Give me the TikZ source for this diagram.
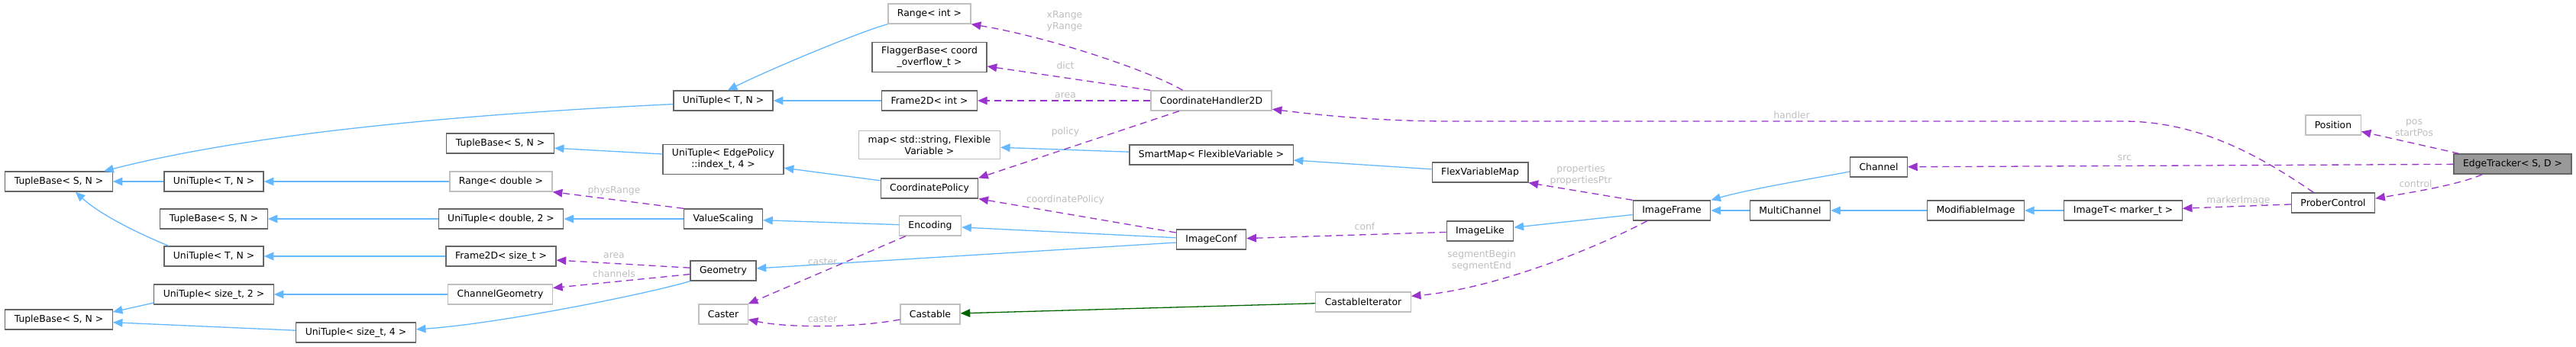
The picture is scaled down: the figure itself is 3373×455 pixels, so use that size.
\documentclass[tikz,border=0pt]{standalone}
\usepackage{fontspec}
\setmainfont{DejaVu Sans}
\usetikzlibrary{arrows.meta}

\definecolor{inheritBlue}{HTML}{63B8FF}
\definecolor{usagePurple}{HTML}{9A32CD}
\definecolor{templGreen}{HTML}{006400}
\definecolor{docBorder}{HTML}{666666}
\definecolor{undocBorder}{HTML}{BFBFBF}
\definecolor{curFill}{HTML}{999999}
\definecolor{labelGrey}{HTML}{BEBEBE}

\newcommand{\classfont}{\fontsize{6.2}{7.5}\selectfont}

\tikzset{every picture/.style={line width=0.65pt}}
\tikzset{
  cls/.style={draw=docBorder, fill=white, font=\classfont, inner xsep=6pt, inner ysep=0pt, minimum height=13pt},
  clsundoc/.style={cls, draw=undocBorder},
  clscur/.style={cls, fill=curFill},
  twoline/.style={align=center, inner ysep=3pt},
  tip/.style={-{Triangle[length=6.3pt,width=5.3pt]}},
  inherit/.style={draw=inheritBlue, tip},
  usage/.style={draw=usagePurple, dash pattern=on 4.5pt off 3pt, tip},
  templ/.style={draw=templGreen, tip},
  edgelabel/.style={text=labelGrey, font=\classfont, inner sep=0pt, align=center}
}

\begin{document}
\begin{tikzpicture}[x=0.5pt,y=0.5pt,yscale=-1,xscale=1]
%set diagram left start at 0, and has height of 455
\useasboundingbox (0,0) rectangle (3373,455);

% Classes, left column
\node[cls] (tbA) at (77,238) {TupleBase< S, N >};
\node[cls] (tbD) at (77,419) {TupleBase< S, N >};
\node[cls] (utA) at (280,238) {UniTuple< T, N >};
\node[cls] (tbC) at (280,287) {TupleBase< S, N >};
\node[cls] (utB) at (280,336) {UniTuple< T, N >};
\node[cls] (utSizeTwo) at (280,386) {UniTuple< size\_t, 2 >};
\node[cls] (utSizeFour) at (466,436) {UniTuple< size\_t, 4 >};
\node[cls] (tbB) at (655,188) {TupleBase< S, N >};
\node[clsundoc] (rangeDouble) at (656,238) {Range< double >};
\node[cls] (utDouble) at (656,287) {UniTuple< double, 2 >};
\node[cls] (frameSize) at (656,336) {Frame2D< size\_t >};
\node[clsundoc] (channelGeom) at (655,386) {ChannelGeometry};

% Classes, middle
\node[cls] (utC) at (947,132) {UniTuple< T, N >};
\node[cls, twoline] (utEdge) at (947,209) {UniTuple< EdgePolicy\\::index\_t, 4 >};
\node[cls] (valueScaling) at (947,287) {ValueScaling};
\node[cls] (geometry) at (947,355) {Geometry};
\node[clsundoc] (caster) at (947,412) {Caster};
\node[clsundoc] (rangeInt) at (1217,18) {Range< int >};
\node[cls, twoline] (flagger) at (1217,75) {FlaggerBase< coord\\\_overflow\_t >};
\node[cls] (frameInt) at (1217,132) {Frame2D< int >};
\node[clsundoc, twoline] (stdMap) at (1217,190) {map< std::string, Flexible\\Variable >};
\node[cls] (coordPolicy) at (1217,247) {CoordinatePolicy};
\node[clsundoc] (encoding) at (1218,296) {Encoding};
\node[clsundoc] (castable) at (1218,412) {Castable};
\node[clsundoc] (coordHandler) at (1586,132) {CoordinateHandler2D};
\node[cls] (smartMap) at (1586,203) {SmartMap< FlexibleVariable >};
\node[cls] (imageConf) at (1586,314) {ImageConf};

% Classes, right
\node[clsundoc] (castIter) at (1785,396) {CastableIterator};
\node[cls] (flexMap) at (1938,226) {FlexVariableMap};
\node[cls] (imageLike) at (1938,303) {ImageLike};
\node[cls] (imageFrame) at (2189,276) {ImageFrame};
\node[cls] (multiChannel) at (2344,276) {MultiChannel};
\node[cls] (channel) at (2460,219) {Channel};
\node[cls] (modImage) at (2587,276) {ModifiableImage};
\node[cls] (imageT) at (2780,276) {ImageT< marker\_t >};
\node[clsundoc] (position) at (3055,164) {Position};
\node[cls] (prober) at (3055,266) {ProberControl};
\node[clscur] (edgeTracker) at (3290,215) {EdgeTracker< S, D >};

% Inheritance
\draw[inherit] (utA) -- (tbA);
\draw[inherit] (utB.167) .. controls (195,312) and (135,285) .. (tbA.-32);
\draw[inherit] (utC.184) .. controls (600,150) and (330,175) .. (tbA.13);
\draw[inherit] (rangeDouble) -- (utA);
\draw[inherit] (utEdge.175) -- (tbB.-5);
\draw[inherit] (utDouble) -- (tbC);
\draw[inherit] (frameSize) -- (utB);
\draw[inherit] (channelGeom) -- (utSizeTwo);
\draw[inherit] (utSizeTwo.188) -- (tbD.8);
\draw[inherit] (utSizeFour.178) -- (tbD.-3);
\draw[inherit] (geometry.south west) .. controls (850,385) and (650,425) .. (utSizeFour.3);
\draw[inherit] (rangeInt.south west) .. controls (1125,42) and (1010,90) .. (utC.67);
\draw[inherit] (frameInt) -- (utC);
\draw[inherit] (coordPolicy.171) -- (utEdge.-8);
\draw[inherit] (valueScaling) -- (utDouble);
\draw[inherit] (encoding) -- (valueScaling);
\draw[inherit] (imageConf) -- (encoding);
\draw[inherit] (imageConf.185) -- (geometry.4);
\draw[inherit] (smartMap) -- (stdMap);
\draw[inherit] (flexMap) -- (smartMap);
\draw[inherit] (imageFrame) -- (imageLike);
\draw[inherit] (channel.189) .. controls (2380,233) and (2290,248) .. (imageFrame.north east);
\draw[inherit] (multiChannel) -- (imageFrame);
\draw[inherit] (modImage) -- (multiChannel);
\draw[inherit] (imageT) -- (modImage);

% Template instance
\draw[templ] (castIter) -- (castable);

% Usage
\draw[usage] (coordHandler.160) .. controls (1510,95) and (1380,50) .. (rangeInt.south east);
\draw[usage] (coordHandler.north west) -- (flagger.-9);
\draw[usage] (coordHandler) -- (frameInt);
\draw[usage] (coordHandler.198) -- (coordPolicy.12);
\draw[usage] (imageConf.169) -- (coordPolicy.south east);
\draw[usage] (valueScaling.north west) -- (rangeDouble.south east);
\draw[usage] (geometry.175) -- (frameSize.-4);
\draw[usage] (geometry.186) -- (channelGeom.7);
\draw[usage] (encoding.203) -- (caster.north east);
\draw[usage] (castable.190) .. controls (1120,430) and (1030,430) .. (caster.-12);
\draw[usage] (imageLike) -- (imageConf);
\draw[usage] (imageFrame.north west) -- (flexMap.south east);
\draw[usage] (imageFrame.203) .. controls (2090,325) and (1960,378) .. (castIter.7);
\draw[usage] (prober.152) .. controls (2960,205) and (2880,159) .. (2780,159) -- (1900,159) .. controls (1800,159) and (1720,150) .. (coordHandler.-8);
\draw[usage] (edgeTracker) -- (channel);
\draw[usage] (edgeTracker.169) -- (position.-13);
\draw[usage] (edgeTracker.199) .. controls (3220,242) and (3160,252) .. (prober.6);
\draw[usage] (prober.182) -- (imageT.2);

% Edge labels
\node[edgelabel] (lRange) at (1394,28) {xRange\\yRange};
\node[edgelabel] (lDict) at (1395,86) {dict};
\node[edgelabel] (lAreaInt) at (1395,125) {area};
\node[edgelabel] (lPolicy) at (1395,173) {policy};
\node[edgelabel] (lCoordPolicy) at (1395,262) {coordinatePolicy};
\node[edgelabel] (lPhysRange) at (804,250) {physRange};
\node[edgelabel] (lAreaSize) at (804,335) {area};
\node[edgelabel] (lChannels) at (804,359) {channels};
\node[edgelabel] (lCasterA) at (1077,343) {caster};
\node[edgelabel] (lCasterB) at (1077,418) {caster};
\node[edgelabel] (lConf) at (1787,297) {conf};
\node[edgelabel] (lProps) at (2070,230) {properties\\propertiesPtr};
\node[edgelabel] (lSegment) at (1940,342) {segmentBegin\\segmentEnd};
\node[edgelabel] (lHandler) at (2346,151) {handler};
\node[edgelabel] (lSrc) at (2782,207) {src};
\node[edgelabel] (lPos) at (3161,168) {pos\\startPos};
\node[edgelabel] (lControl) at (3163,241) {control};
\node[edgelabel] (lMarker) at (2931,263) {markerImage};

\end{tikzpicture}
\end{document}
